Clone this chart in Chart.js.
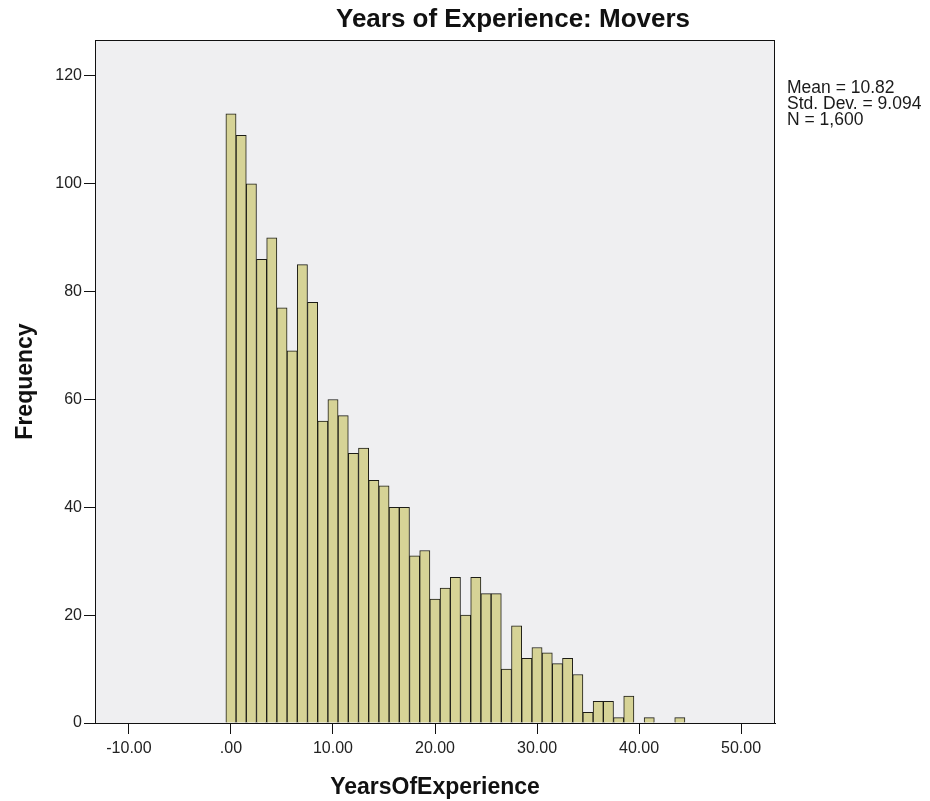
<!DOCTYPE html>
<html>
<head>
<meta charset="utf-8">
<title>Years of Experience: Movers</title>
<script src="https://cdn.jsdelivr.net/npm/chart.js@4/dist/chart.umd.min.js"></script>
<style>
  html, body { margin: 0; padding: 0; background: #ffffff; }
  canvas { display: block; }
</style>
</head>
<body>
<canvas id="hist" width="930" height="801"></canvas>
<script>
// Histogram data: one-year bins centred on whole years
const chartTitle = 'Years of Experience: Movers';
const xAxisTitle = 'YearsOfExperience';
const yAxisTitle = 'Frequency';
const binCenters = [0, 1, 2, 3, 4, 5, 6, 7, 8, 9, 10, 11, 12, 13, 14, 15, 16, 17, 18, 19, 20, 21,
  22, 23, 24, 25, 26, 27, 28, 29, 30, 31, 32, 33, 34, 35, 36, 37, 38, 39, 40, 41, 42, 43, 44];
const frequencies = [113, 109, 100, 86, 90, 77, 69, 85, 78, 56, 60, 57, 50, 51, 45, 44, 40, 40, 31, 32,
  23, 25, 27, 20, 27, 24, 24, 10, 18, 12, 14, 13, 11, 12, 9, 2, 4, 4, 1, 5, 0, 1, 0, 0, 1];
const xTickValues = [-10, 0, 10, 20, 30, 40, 50];
const yTickValues = [0, 20, 40, 60, 80, 100, 120];
const summaryLines = ['Mean = 10.82', 'Std. Dev. = 9.094', 'N = 1,600'];

const FONT = '"Liberation Sans", Arial, Helvetica, sans-serif';

const points = binCenters.map((c, i) => ({ x: c, y: frequencies[i] }));

function formatTick(v) {
  return v === 0 ? '.00' : v.toFixed(2);
}

// Plot background, full frame, chart title and summary statistics
const framePlugin = {
  id: 'frameAndNotes',
  beforeDraw(chart) {
    const { ctx, chartArea: a } = chart;
    ctx.save();
    ctx.fillStyle = '#efeff1';
    ctx.fillRect(a.left, a.top, a.right - a.left, a.bottom - a.top);
    ctx.restore();
  },
  afterDraw(chart) {
    const { ctx, chartArea: a } = chart;
    ctx.save();
    ctx.strokeStyle = '#111111';
    ctx.lineWidth = 1;
    ctx.strokeRect(Math.round(a.left) + 0.5, Math.round(a.top) + 0.5,
      Math.round(a.right - a.left) - 1, Math.round(a.bottom - a.top));

    ctx.fillStyle = '#111111';
    ctx.font = 'bold 26px ' + FONT;
    ctx.textAlign = 'center';
    ctx.textBaseline = 'alphabetic';
    ctx.fillText(chartTitle, 513, 27);

    ctx.font = '17.5px ' + FONT;
    ctx.textAlign = 'left';
    ctx.fillStyle = '#1a1a1a';
    summaryLines.forEach((line, i) => {
      ctx.fillText(line, 787, 93 + i * 16);
    });
    ctx.restore();
  }
};

new Chart(document.getElementById('hist'), {
  type: 'bar',
  data: {
    datasets: [{
      label: yAxisTitle,
      data: points,
      backgroundColor: 'rgb(214, 211, 150)',
      borderColor: '#1c1c16',
      borderWidth: 1,
      borderSkipped: 'bottom',
      barPercentage: 1.0,
      categoryPercentage: 1.0
    }]
  },
  options: {
    responsive: false,
    devicePixelRatio: 1,
    animation: false,
    layout: { padding: { top: 40, right: 155, left: 0, bottom: 0 } },
    plugins: {
      legend: { display: false },
      tooltip: { enabled: false },
      title: { display: false }
    },
    scales: {
      x: {
        type: 'linear',
        min: -13.33,
        max: 53.33,
        offset: false,
        afterFit(scale) { scale.height = 78; },
        afterBuildTicks(scale) { scale.ticks = xTickValues.map(v => ({ value: v })); },
        ticks: {
          callback: v => formatTick(v),
          color: '#222222',
          font: { family: FONT, size: 16 },
          padding: 5,
          maxRotation: 0,
          autoSkip: false
        },
        grid: {
          offset: false,
          drawOnChartArea: false,
          drawTicks: true,
          tickLength: 11,
          tickColor: '#111111',
          tickWidth: 1
        },
        border: { display: true, color: '#111111', width: 1 },
        title: {
          display: true,
          text: xAxisTitle,
          color: '#111111',
          font: { family: FONT, size: 23, weight: 'bold' },
          padding: { top: 0, bottom: 0 }
        }
      },
      y: {
        type: 'linear',
        min: 0,
        max: 126.67,
        afterFit(scale) { scale.width = 95; },
        afterBuildTicks(scale) { scale.ticks = yTickValues.map(v => ({ value: v })); },
        ticks: {
          color: '#222222',
          font: { family: FONT, size: 16 },
          padding: 2
        },
        grid: {
          drawOnChartArea: false,
          drawTicks: true,
          tickLength: 11,
          tickColor: '#111111',
          tickWidth: 1
        },
        border: { display: true, color: '#111111', width: 1 },
        title: {
          display: true,
          text: yAxisTitle,
          color: '#111111',
          font: { family: FONT, size: 23, weight: 'bold' },
          padding: { top: 12, bottom: 0 }
        }
      }
    }
  },
  plugins: [framePlugin]
});
</script>
</body>
</html>
